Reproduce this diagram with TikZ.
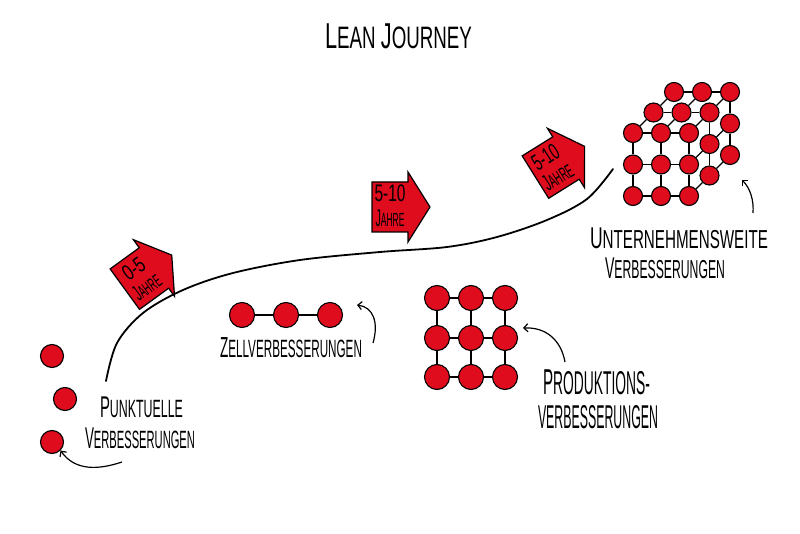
\documentclass[tikz,border=0pt]{standalone}
\usepackage{fontspec}
\setmainfont{Liberation Sans}
\usetikzlibrary{arrows.meta}
\definecolor{lred}{RGB}{222,12,28}
\newcommand{\fs}[2]{{\fontsize{#1}{#1}\selectfont #2}}
\newcommand{\tw}[2]{\resizebox{#1pt}{\height}{#2}}
\newcommand{\jarrowshape}{\draw[arrowbox] (-20,-25) -- (16,-25) -- (16,-35) -- (38,0) -- (16,35) -- (16,25) -- (-20,25) -- cycle;}
\begin{document}
\begin{tikzpicture}[x=1pt,y=-1pt,
  rdot/.style={circle, fill=lred, draw=black, line width=1.1pt, minimum size=#1, inner sep=0pt},
  rdot/.default=23pt,
  cdot/.style={rdot=19pt},
  txt/.style={anchor=base, inner sep=0pt, text=black},
  gl/.style={line width=1.2pt, draw=black},
  conn/.style={line width=1.2pt, -{Straight Barb[length=4pt,width=8pt]}},
  arrowbox/.style={fill=lred, draw=black, line width=1.2pt, line join=miter},
  atxt/.style={anchor=center, inner sep=0pt, align=center, transform shape}]
\useasboundingbox (0,0) rectangle (800,534);
\fill[white] (0,0) rectangle (800,534);

% title
\node[txt] (title) at (398.5,49) {\tw{147}{\fs{36}{L}\fs{31}{EAN }\fs{36}{J}\fs{31}{OURNEY}}};

% main journey curve
\coordinate (js) at (106,381);
\coordinate (je) at (613,169);
\draw[line width=1.8pt, line cap=round] plot[smooth, tension=0.55] coordinates {(js) (117,343) (143,313) (183,290) (233,273) (300,260) (380,252) (447,247) (497,237) (547,220) (587,199) (je)};

% time arrows
\begin{scope}[shift={(141,277.4)}, rotate=36]
  \jarrowshape
  \node[atxt] (a1) at (-1,0) {\tw{23}{\fs{22}{0-5}}\\[6pt]\tw{30}{\fs{22}{J}\fs{18}{AHRE}}};
\end{scope}
\begin{scope}[shift={(392,207)}]
  \jarrowshape
  \node[atxt] (a2) at (-2,-1) {\tw{31}{\fs{24}{5-10}}\\[7pt]\tw{29}{\fs{24}{J}\fs{19}{AHRE}}};
\end{scope}
\begin{scope}[shift={(552.4,166.5)}, rotate=32]
  \jarrowshape
  \node[atxt] (a3) at (-1,0) {\tw{28}{\fs{23}{5-10}}\\[6pt]\tw{32}{\fs{23}{J}\fs{19}{AHRE}}};
\end{scope}

% punktuelle
\node[rdot] (p1) at (52,356) {};
\node[rdot] (p2) at (65,399) {};
\node[rdot] (p3) at (52,442) {};
\node[txt] (pt1) at (141.5,417) {\tw{83}{\fs{30}{P}\fs{25}{UNKTUELLE}}};
\node[txt] (pt2) at (140,448) {\tw{110}{\fs{30}{V}\fs{25}{ERBESSERUNGEN}}};
\coordinate (pa) at (122,462);
\draw[conn] (pa) .. controls (98,470) and (75,471) .. (p3.south east);

% zell
\node[rdot=25pt] (z1) at (242,315) {};
\node[rdot=25pt] (z2) at (286,315) {};
\node[rdot=25pt] (z3) at (330,315) {};
\draw[gl] (z1) -- (z2) (z2) -- (z3);
\node[txt] (zt) at (291,358) {\tw{142}{\fs{29}{Z}\fs{25}{ELLVERBESSERUNGEN}}};
\coordinate (za) at (373,343);
\coordinate (zb) at (357,305);
\draw[conn] (za) .. controls (379,322) and (373,307) .. (zb);

% produktion grid
\foreach \i/\x in {0/437,1/471,2/505}{
  \foreach \j/\y in {0/298,1/338,2/377}{
    \node[rdot=25pt] (g\i\j) at (\x,\y) {};
  }
}
\foreach \j in {0,1,2}{\draw[gl] (g0\j) -- (g1\j) (g1\j) -- (g2\j);}
\foreach \i in {0,1,2}{\draw[gl] (g\i0) -- (g\i1) (g\i1) -- (g\i2);}
\node[txt] (prt1) at (596.5,394) {\tw{107}{\fs{36}{P}\fs{33}{RODUKTIONS-}}};
\node[txt] (prt2) at (598,428) {\tw{120}{\fs{33}{VERBESSERUNGEN}}};
\coordinate (pra) at (565,362);
\coordinate (prb) at (523,328);
\draw[conn] (pra) .. controls (561,340) and (546,327) .. (prb);

% cube
\foreach \k in {0,1,2}{\foreach \i in {0,1,2}{\foreach \j in {0,1,2}{
  \pgfmathtruncatemacro{\vis}{(\k==0)||(\j==0)||(\i==2)}
  \ifnum\vis=1
    \node[cdot] (c\i\j\k) at ({633+28*\i+20.5*\k},{133+31.5*\j-20.5*\k}) {};
  \fi
}}}
\foreach \j in {0,1,2}{\draw[gl] (c0\j0) -- (c1\j0) (c1\j0) -- (c2\j0);}
\foreach \i in {0,1,2}{\draw[gl] (c\i00) -- (c\i10) (c\i10) -- (c\i20);}
\foreach \k in {1,2}{\draw[gl] (c00\k) -- (c10\k) (c10\k) -- (c20\k);}
\foreach \i in {0,1,2}{\draw[gl] (c\i00) -- (c\i01) (c\i01) -- (c\i02);}
\foreach \k in {1,2}{\draw[gl] (c20\k) -- (c21\k) (c21\k) -- (c22\k);}
\foreach \j in {1,2}{\draw[gl] (c2\j0) -- (c2\j1) (c2\j1) -- (c2\j2);}
\node[txt] (ut1) at (679,249) {\tw{178}{\fs{30}{U}\fs{26}{NTERNEHMENSWEITE}}};
\node[txt] (ut2) at (665,279) {\tw{120}{\fs{30}{V}\fs{26}{ERBESSERUNGEN}}};
\coordinate (ua) at (753,213);
\coordinate (ub) at (742,180);
\draw[conn] (ua) .. controls (754,200) and (750,188) .. (ub);
\end{tikzpicture}
\end{document}
